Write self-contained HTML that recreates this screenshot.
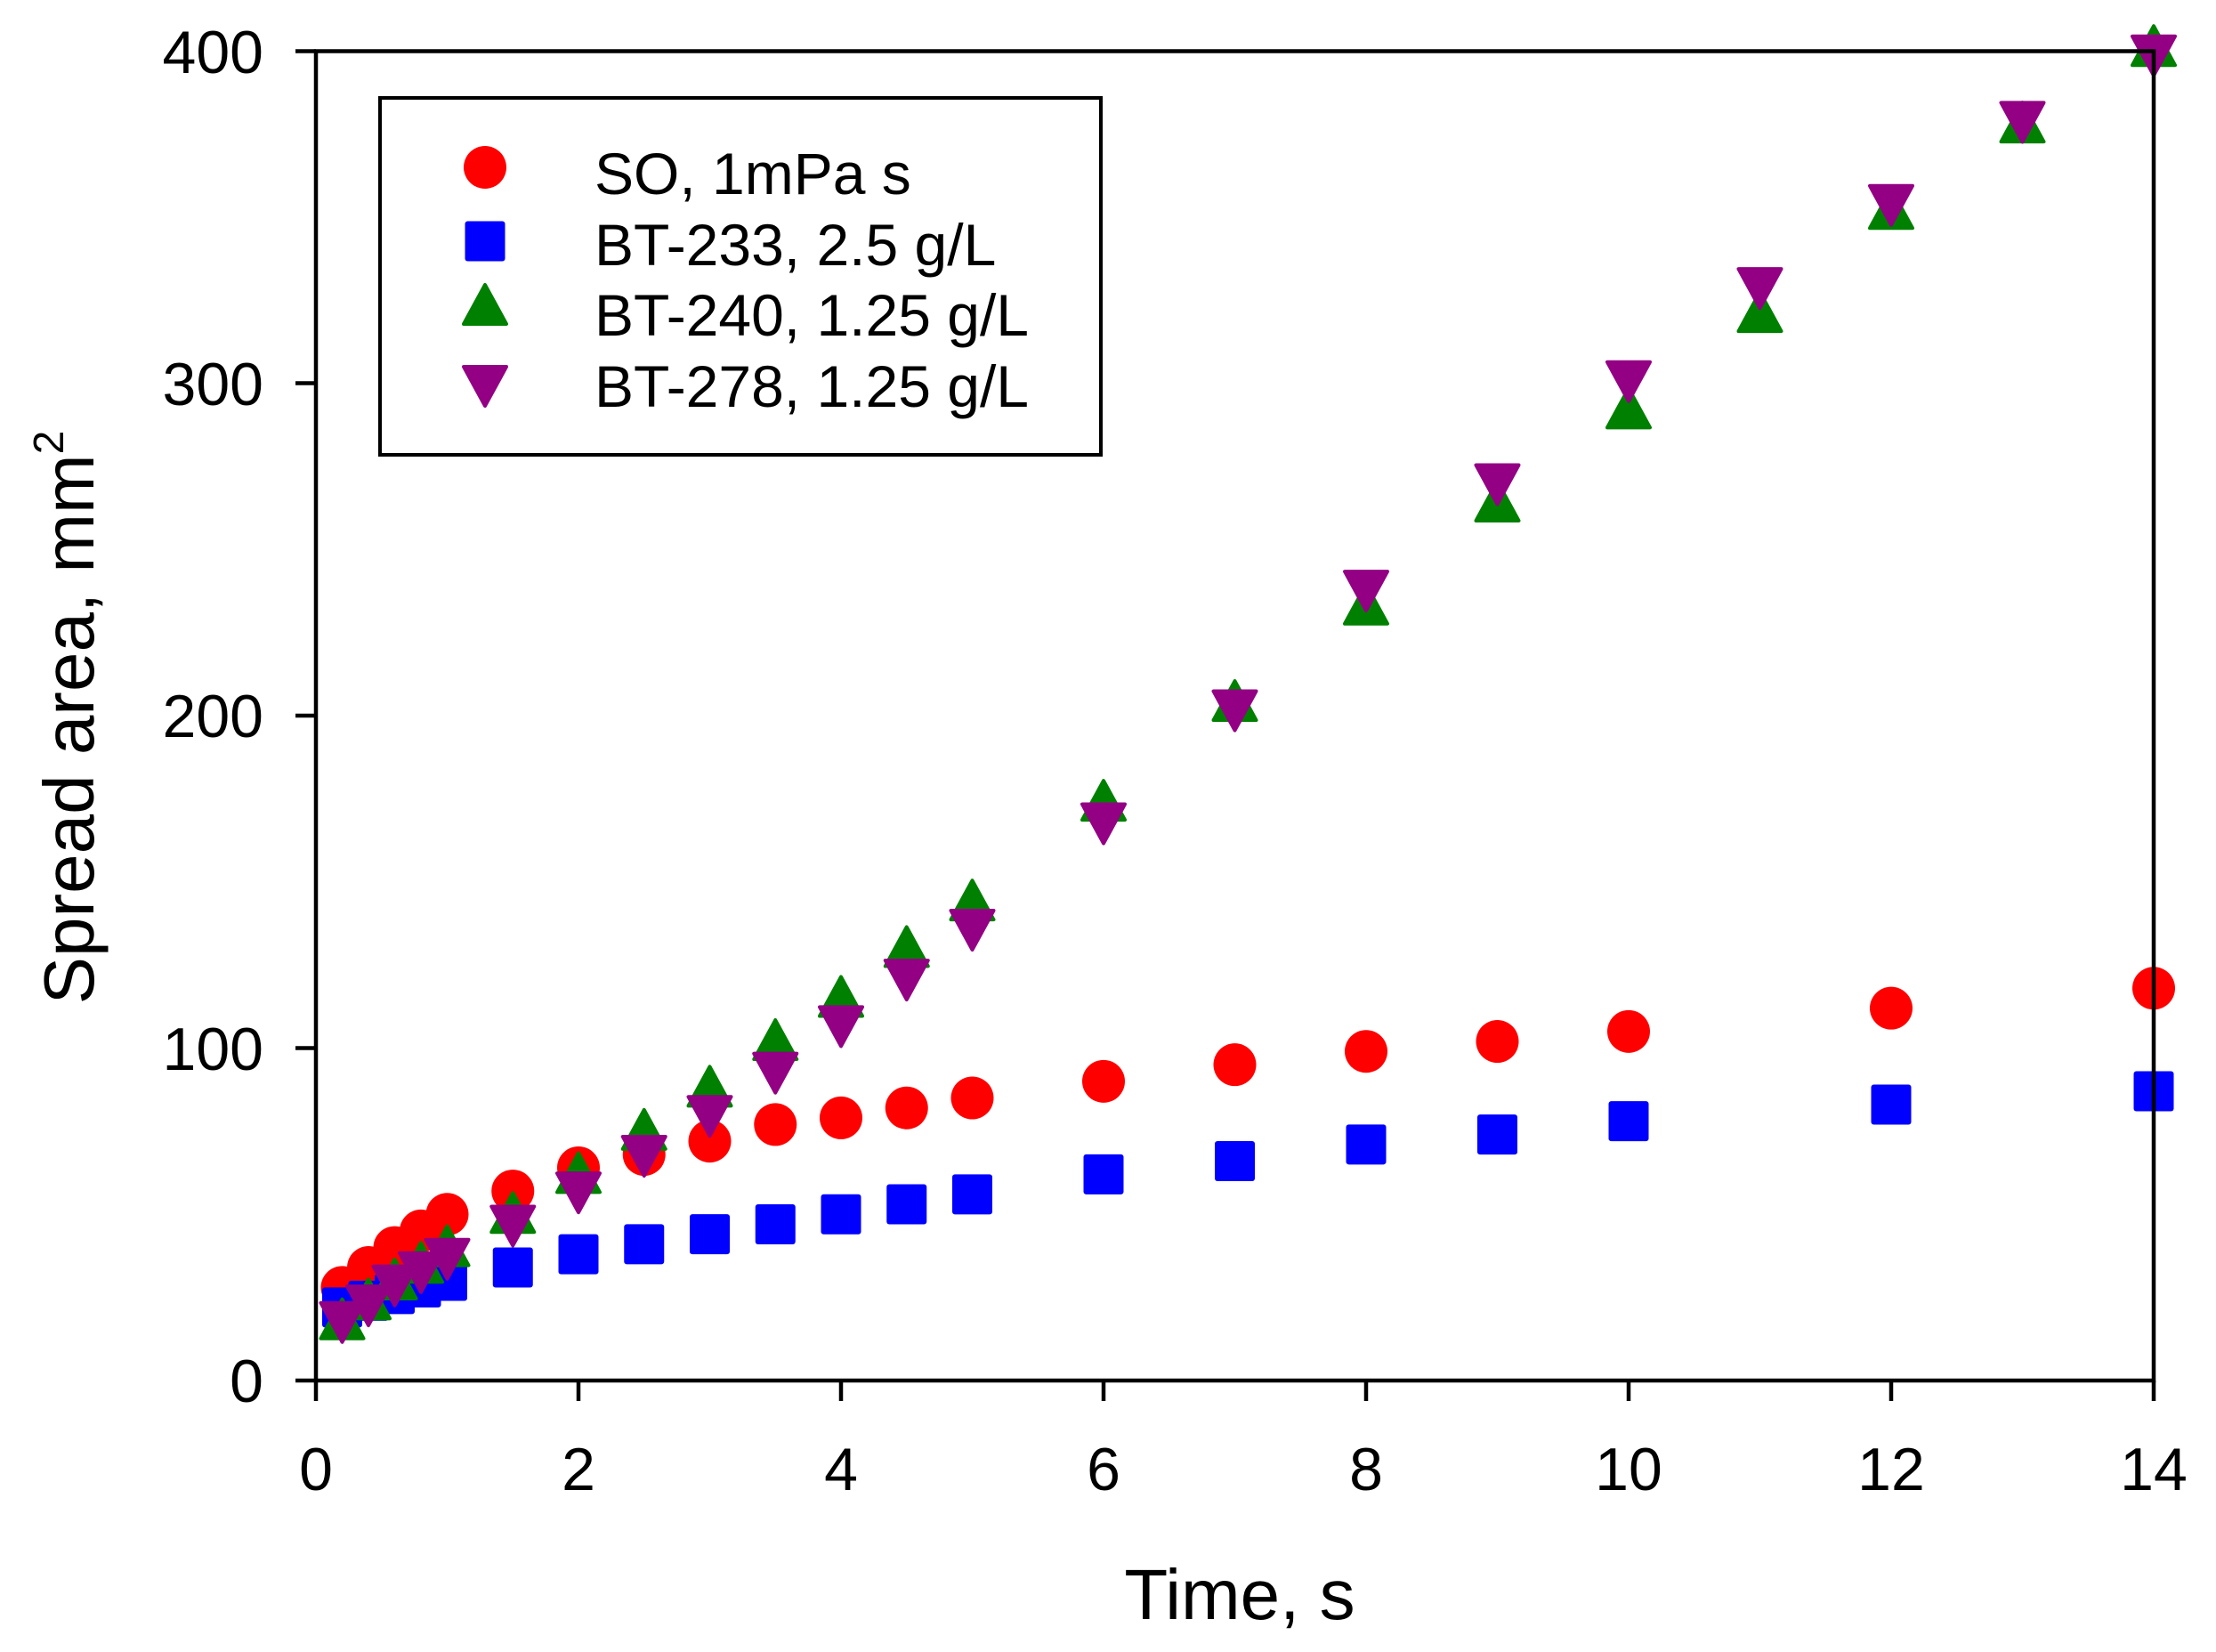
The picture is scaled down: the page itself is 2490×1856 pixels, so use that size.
<!DOCTYPE html>
<html><head><meta charset="utf-8"><style>
html,body{margin:0;padding:0;background:#fff;}
svg{display:block;}
text{font-family:"Liberation Sans",Arial,sans-serif;fill:#000;}
</style></head><body>
<svg id="s" width="2490" height="1856" viewBox="0 0 2490 1856" xmlns="http://www.w3.org/2000/svg">
<rect width="2490" height="1856" fill="#fff"/>
<g id="data"></g>
<rect x="355" y="57.5" width="2065" height="1493.5" fill="none" stroke="#000" stroke-width="4.5"/>
<g stroke="#000" stroke-width="4.5">
<line x1="355" y1="1551" x2="355" y2="1574"/><line x1="650" y1="1551" x2="650" y2="1574"/>
<line x1="945" y1="1551" x2="945" y2="1574"/><line x1="1240" y1="1551" x2="1240" y2="1574"/>
<line x1="1535" y1="1551" x2="1535" y2="1574"/><line x1="1830" y1="1551" x2="1830" y2="1574"/>
<line x1="2125" y1="1551" x2="2125" y2="1574"/><line x1="2420" y1="1551" x2="2420" y2="1574"/>
<line x1="332" y1="1551" x2="355" y2="1551"/><line x1="332" y1="1177.5" x2="355" y2="1177.5"/>
<line x1="332" y1="804" x2="355" y2="804"/><line x1="332" y1="430.5" x2="355" y2="430.5"/>
<line x1="332" y1="57.5" x2="355" y2="57.5"/>
</g>
<g font-size="68" text-anchor="middle">
<text x="355" y="1674">0</text><text x="650" y="1674">2</text><text x="945" y="1674">4</text>
<text x="1240" y="1674">6</text><text x="1535" y="1674">8</text><text x="1830" y="1674">10</text>
<text x="2125" y="1674">12</text><text x="2420" y="1674">14</text>
</g>
<g font-size="68" text-anchor="end">
<text x="296" y="1575">0</text><text x="296" y="1202">100</text><text x="296" y="828">200</text>
<text x="296" y="455">300</text><text x="296" y="82">400</text>
</g>
<text x="1393" y="1819" font-size="80" text-anchor="middle">Time, s</text>
<text transform="translate(105,806) rotate(-90)" font-size="80" text-anchor="middle">Spread area, mm<tspan font-size="48" dy="-34">2</tspan></text>
<rect x="427" y="110" width="810" height="401" fill="#fff" stroke="#000" stroke-width="4"/>
<g font-size="66">
<text x="668" y="218">SO, 1mPa s</text>
<text x="668" y="298">BT-233, 2.5 g/L</text>
<text x="668" y="377">BT-240, 1.25 g/L</text>
<text x="668" y="457">BT-278, 1.25 g/L</text>
</g>
<g id="leg"></g>
</svg>
<script>
var NS="http://www.w3.org/2000/svg";
function X(t){return 355+t*147.5;}
function Y(v){return 1551-v*3.735;}
function mk(g,type,cx,cy){
  var e;
  if(type==0){e=document.createElementNS(NS,"circle");e.setAttribute("cx",cx);e.setAttribute("cy",cy);e.setAttribute("r",24);e.setAttribute("fill","#ff0000");}
  else if(type==1){e=document.createElementNS(NS,"rect");e.setAttribute("x",cx-22.5);e.setAttribute("y",cy-22.5);e.setAttribute("width",45);e.setAttribute("height",45);e.setAttribute("rx",3);e.setAttribute("fill","#0000ff");}
  else if(type==2){e=document.createElementNS(NS,"polygon");e.setAttribute("points",(cx)+","+(cy-24)+" "+(cx+24)+","+(cy+20)+" "+(cx-24)+","+(cy+20));e.setAttribute("fill","#008000");e.setAttribute("stroke","#008000");e.setAttribute("stroke-width","4");e.setAttribute("stroke-linejoin","round");}
  else {e=document.createElementNS(NS,"polygon");e.setAttribute("points",(cx-24)+","+(cy-20)+" "+(cx+24)+","+(cy-20)+" "+(cx)+","+(cy+24));e.setAttribute("fill","#930083");e.setAttribute("stroke","#930083");e.setAttribute("stroke-width","4");e.setAttribute("stroke-linejoin","round");}
  g.appendChild(e);
}
var T1=[0.2,0.4,0.6,0.8,1,1.5,2,2.5,3,3.5,4,4.5,5,6,7,8,9,10,12,14];
var SO=[28,34,40,45,50,57,64,68,72,77,79,82,85,90,95,99,102,105,112,118];
var B233=[22,24,26,28,30,34,38,41,44,47,50,53,56,62,66,71,74,78,83,87];
var T2=[0.2,0.4,0.6,0.8,1,1.5,2,2.5,3,3.5,4,4.5,5,6,7,8,9,10,11,12,13,14];
var B240=[18,24,30,35,40,50,62,75,88,102,115,130,144,174,204,233,264,292,321,352,378,401];
var B278=[18,23,29,33,37,47,57,68,80,93,107,121,136,168,202,238,270,301,329,354,379,399];
var g=document.getElementById("data");
T1.forEach(function(t,i){mk(g,0,X(t),Y(SO[i]));});
T1.forEach(function(t,i){mk(g,1,X(t),Y(B233[i]));});
T2.forEach(function(t,i){mk(g,2,X(t),Y(B240[i]));});
T2.forEach(function(t,i){mk(g,3,X(t),Y(B278[i]));});
var l=document.getElementById("leg");
mk(l,0,545,188);mk(l,1,545,271);mk(l,2,545,344);mk(l,3,545,432);
</script>
</body></html>
